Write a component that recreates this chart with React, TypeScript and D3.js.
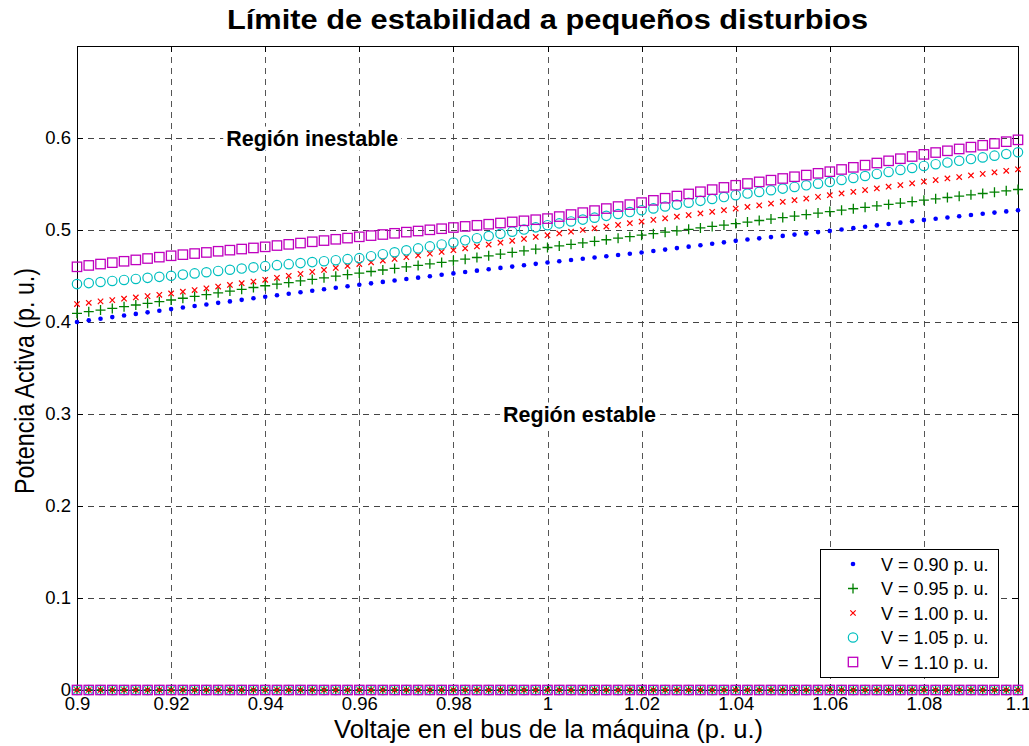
import * as d3 from 'd3';
import React, { useRef, useEffect } from 'react';

// bus voltage (x) and active power limit (y)
const voltages = [
  0.9, 0.9025, 0.905, 0.9075, 0.91, 0.9125, 0.915, 0.9175,
  0.92, 0.9225, 0.925, 0.9275, 0.93, 0.9325, 0.935, 0.9375,
  0.94, 0.9425, 0.945, 0.9475, 0.95, 0.9525, 0.955, 0.9575,
  0.96, 0.9625, 0.965, 0.9675, 0.97, 0.9725, 0.975, 0.9775,
  0.98, 0.9825, 0.985, 0.9875, 0.99, 0.9925, 0.995, 0.9975,
  1.0, 1.0025, 1.005, 1.0075, 1.01, 1.0125, 1.015, 1.0175,
  1.02, 1.0225, 1.025, 1.0275, 1.03, 1.0325, 1.035, 1.0375,
  1.04, 1.0425, 1.045, 1.0475, 1.05, 1.0525, 1.055, 1.0575,
  1.06, 1.0625, 1.065, 1.0675, 1.07, 1.0725, 1.075, 1.0775,
  1.08, 1.0825, 1.085, 1.0875, 1.09, 1.0925, 1.095, 1.0975,
  1.1,
];

const pV090 = [
  0.4000, 0.4018, 0.4035, 0.4053, 0.4070, 0.4088, 0.4105, 0.4123,
  0.4140, 0.4157, 0.4174, 0.4191, 0.4208, 0.4224, 0.4241, 0.4258,
  0.4275, 0.4291, 0.4307, 0.4324, 0.4340, 0.4356, 0.4372, 0.4389,
  0.4405, 0.4420, 0.4436, 0.4451, 0.4467, 0.4482, 0.4497, 0.4513,
  0.4528, 0.4543, 0.4558, 0.4573, 0.4588, 0.4602, 0.4617, 0.4632,
  0.4647, 0.4661, 0.4674, 0.4688, 0.4701, 0.4715, 0.4728, 0.4742,
  0.4755, 0.4771, 0.4787, 0.4803, 0.4819, 0.4834, 0.4850, 0.4866,
  0.4882, 0.4896, 0.4909, 0.4923, 0.4936, 0.4950, 0.4963, 0.4977,
  0.4990, 0.5005, 0.5020, 0.5035, 0.5050, 0.5065, 0.5080, 0.5095,
  0.5110, 0.5123, 0.5136, 0.5149, 0.5163, 0.5176, 0.5189, 0.5202,
  0.5215,
];

const pV095 = [
  0.4094, 0.4112, 0.4130, 0.4148, 0.4167, 0.4185, 0.4203, 0.4221,
  0.4239, 0.4258, 0.4278, 0.4297, 0.4317, 0.4336, 0.4355, 0.4375,
  0.4394, 0.4411, 0.4429, 0.4446, 0.4463, 0.4480, 0.4498, 0.4515,
  0.4532, 0.4549, 0.4565, 0.4582, 0.4599, 0.4615, 0.4632, 0.4648,
  0.4665, 0.4683, 0.4701, 0.4719, 0.4738, 0.4756, 0.4774, 0.4792,
  0.4810, 0.4827, 0.4844, 0.4860, 0.4877, 0.4894, 0.4911, 0.4927,
  0.4944, 0.4960, 0.4976, 0.4991, 0.5007, 0.5023, 0.5039, 0.5054,
  0.5070, 0.5086, 0.5103, 0.5119, 0.5135, 0.5151, 0.5168, 0.5184,
  0.5200, 0.5216, 0.5231, 0.5247, 0.5262, 0.5278, 0.5293, 0.5309,
  0.5324, 0.5339, 0.5353, 0.5368, 0.5382, 0.5397, 0.5411, 0.5426,
  0.5440,
];

const pV100 = [
  0.4195, 0.4209, 0.4224, 0.4238, 0.4253, 0.4267, 0.4281, 0.4296,
  0.4310, 0.4329, 0.4347, 0.4366, 0.4385, 0.4403, 0.4422, 0.4440,
  0.4459, 0.4480, 0.4502, 0.4523, 0.4545, 0.4566, 0.4587, 0.4609,
  0.4630, 0.4649, 0.4668, 0.4686, 0.4705, 0.4724, 0.4743, 0.4761,
  0.4780, 0.4801, 0.4821, 0.4842, 0.4862, 0.4883, 0.4903, 0.4924,
  0.4944, 0.4963, 0.4981, 0.5000, 0.5018, 0.5037, 0.5055, 0.5074,
  0.5092, 0.5110, 0.5127, 0.5145, 0.5163, 0.5180, 0.5198, 0.5215,
  0.5233, 0.5251, 0.5269, 0.5287, 0.5306, 0.5324, 0.5342, 0.5360,
  0.5378, 0.5397, 0.5415, 0.5434, 0.5452, 0.5471, 0.5489, 0.5508,
  0.5526, 0.5543, 0.5560, 0.5576, 0.5593, 0.5610, 0.5627, 0.5643,
  0.5660,
];

const pV105 = [
  0.4412, 0.4423, 0.4435, 0.4446, 0.4457, 0.4468, 0.4480, 0.4491,
  0.4502, 0.4515, 0.4528, 0.4541, 0.4555, 0.4568, 0.4581, 0.4594,
  0.4607, 0.4618, 0.4629, 0.4640, 0.4651, 0.4661, 0.4672, 0.4683,
  0.4694, 0.4715, 0.4737, 0.4758, 0.4779, 0.4800, 0.4822, 0.4843,
  0.4864, 0.4888, 0.4911, 0.4935, 0.4958, 0.4982, 0.5005, 0.5029,
  0.5052, 0.5072, 0.5093, 0.5113, 0.5134, 0.5154, 0.5174, 0.5195,
  0.5215, 0.5235, 0.5256, 0.5276, 0.5297, 0.5317, 0.5337, 0.5358,
  0.5378, 0.5396, 0.5414, 0.5432, 0.5450, 0.5468, 0.5486, 0.5504,
  0.5522, 0.5544, 0.5566, 0.5587, 0.5609, 0.5631, 0.5653, 0.5674,
  0.5696, 0.5715, 0.5733, 0.5752, 0.5771, 0.5789, 0.5808, 0.5826,
  0.5845,
];

const pV110 = [
  0.4600, 0.4615, 0.4630, 0.4645, 0.4660, 0.4675, 0.4690, 0.4705,
  0.4720, 0.4732, 0.4744, 0.4756, 0.4769, 0.4781, 0.4793, 0.4805,
  0.4817, 0.4831, 0.4844, 0.4858, 0.4872, 0.4885, 0.4899, 0.4912,
  0.4926, 0.4939, 0.4951, 0.4964, 0.4977, 0.4989, 0.5002, 0.5014,
  0.5027, 0.5039, 0.5051, 0.5063, 0.5076, 0.5088, 0.5100, 0.5112,
  0.5124, 0.5146, 0.5168, 0.5189, 0.5211, 0.5233, 0.5255, 0.5276,
  0.5298, 0.5322, 0.5345, 0.5369, 0.5392, 0.5416, 0.5439, 0.5463,
  0.5486, 0.5505, 0.5523, 0.5542, 0.5560, 0.5579, 0.5597, 0.5616,
  0.5634, 0.5658, 0.5681, 0.5705, 0.5728, 0.5752, 0.5775, 0.5799,
  0.5822, 0.5842, 0.5861, 0.5881, 0.5901, 0.5921, 0.5940, 0.5960,
  0.5980,
];

// every series is also plotted along P = 0
const floorPower = 0;

const xTicks = [0.9, 0.92, 0.94, 0.96, 0.98, 1.0, 1.02, 1.04, 1.06, 1.08, 1.1];
const xTickLabels = ['0.9', '0.92', '0.94', '0.96', '0.98', '1', '1.02', '1.04', '1.06', '1.08', '1.1'];
const yTicks = [0, 0.1, 0.2, 0.3, 0.4, 0.5, 0.6];
const yTickLabels = ['0', '0.1', '0.2', '0.3', '0.4', '0.5', '0.6'];

const regionNotes = [
  { text: 'Región inestable', v: 0.95, p: 0.6 },
  { text: 'Región estable', v: 1.0068, p: 0.3 },
];

const seriesList = [
  { label: 'V = 0.90 p. u.', values: pV090, color: '#0000ff', marker: 'dot' },
  { label: 'V = 0.95 p. u.', values: pV095, color: '#008000', marker: 'plus' },
  { label: 'V = 1.00 p. u.', values: pV100, color: '#ff0000', marker: 'cross' },
  { label: 'V = 1.05 p. u.', values: pV105, color: '#00bfbf', marker: 'circle' },
  { label: 'V = 1.10 p. u.', values: pV110, color: '#bf00bf', marker: 'square' },
];

const font = 'Arial, "Liberation Sans", Helvetica, sans-serif';

function drawMarker(g, marker, color) {
  if (marker === 'dot') {
    g.append('circle').attr('r', 2.3).attr('fill', color);
  } else if (marker === 'plus') {
    g.append('path').attr('d', 'M-5,0H5M0,-5V5').attr('stroke', color).attr('stroke-width', 1.3).attr('fill', 'none');
  } else if (marker === 'cross') {
    g.append('path').attr('d', 'M-2.7,-2.7L2.7,2.7M-2.7,2.7L2.7,-2.7').attr('stroke', color).attr('stroke-width', 1.2).attr('fill', 'none');
  } else if (marker === 'circle') {
    g.append('circle').attr('r', 4.7).attr('stroke', color).attr('stroke-width', 1.2).attr('fill', 'none');
  } else {
    g.append('rect').attr('x', -4.7).attr('y', -4.7).attr('width', 9.4).attr('height', 9.4)
      .attr('stroke', color).attr('stroke-width', 1.3).attr('fill', 'none');
  }
}

export default function App() {
  const svgRef = useRef(null);
  const width = 1029;
  const height = 746;
  const marginTop = 46;
  const marginRight = 11;
  const marginBottom = 56;
  const marginLeft = 77;

  useEffect(() => {
    if (!svgRef.current) return;
    const svg = d3.select(svgRef.current);
    svg.selectAll('*').remove();

    const x = d3.scaleLinear().domain([0.9, 1.1]).range([marginLeft, width - marginRight]);
    const y = d3.scaleLinear().domain([0, 0.7]).range([height - marginBottom, marginTop]);
    const plotH = height - marginBottom - marginTop;
    const plotW = width - marginRight - marginLeft;

    svg.append('rect').attr('width', width).attr('height', height).attr('fill', '#fff');

    // grid
    svg.append('g')
      .attr('transform', `translate(0,${height - marginBottom})`)
      .call(d3.axisBottom(x).tickValues(xTicks.slice(1, -1)).tickSize(-plotH).tickFormat(() => ''))
      .call(g => g.select('.domain').remove())
      .call(g => g.selectAll('line').attr('stroke', '#555').attr('stroke-dasharray', '6,5').attr('shape-rendering', 'crispEdges'));
    svg.append('g')
      .attr('transform', `translate(${marginLeft},0)`)
      .call(d3.axisLeft(y).tickValues(yTicks.slice(1)).tickSize(-plotW).tickFormat(() => ''))
      .call(g => g.select('.domain').remove())
      .call(g => g.selectAll('line').attr('stroke', '#444').attr('stroke-dasharray', '6,5').attr('shape-rendering', 'crispEdges'));

    // axes with inward ticks, box on
    const styleAxis = g => {
      g.attr('font-family', font).attr('font-size', 18.5);
      g.selectAll('.domain').attr('stroke', '#000').attr('shape-rendering', 'crispEdges');
      g.selectAll('line').attr('stroke', '#000').attr('shape-rendering', 'crispEdges');
      g.selectAll('text').attr('fill', '#000');
    };
    svg.append('g')
      .attr('transform', `translate(0,${height - marginBottom})`)
      .call(d3.axisBottom(x).tickValues(xTicks).tickFormat((d, i) => xTickLabels[i])
        .tickSizeInner(-6).tickSizeOuter(0).tickPadding(7))
      .call(styleAxis);
    svg.append('g')
      .attr('transform', `translate(${marginLeft},0)`)
      .call(d3.axisLeft(y).tickValues(yTicks).tickFormat((d, i) => yTickLabels[i])
        .tickSizeInner(-6).tickSizeOuter(0).tickPadding(6))
      .call(styleAxis);
    svg.append('g')
      .attr('transform', `translate(0,${marginTop})`)
      .call(d3.axisTop(x).tickValues(xTicks).tickFormat(() => '').tickSizeInner(-6).tickSizeOuter(0))
      .call(styleAxis);
    svg.append('g')
      .attr('transform', `translate(${width - marginRight},0)`)
      .call(d3.axisRight(y).tickValues(yTicks).tickFormat(() => '').tickSizeInner(-6).tickSizeOuter(0))
      .call(styleAxis);

    // markers
    seriesList.forEach(s => {
      const layer = svg.append('g');
      const pts = voltages.map((v, i) => ({ v, p: s.values[i] }))
        .concat(voltages.map(v => ({ v, p: floorPower })));
      layer.selectAll('g')
        .data(pts)
        .enter()
        .append('g')
        .attr('transform', d => `translate(${x(d.v)},${y(d.p)})`)
        .each(function () { drawMarker(d3.select(this), s.marker, s.color); });
    });

    // region notes with white background
    regionNotes.forEach(n => {
      const g = svg.append('g');
      const bg = g.append('rect').attr('fill', '#fff');
      const t = g.append('text')
        .attr('x', x(n.v)).attr('y', y(n.p)).attr('dy', '0.35em')
        .attr('text-anchor', 'middle')
        .attr('font-family', font).attr('font-weight', 'bold').attr('font-size', 21.5)
        .text(n.text);
      const b = t.node().getBBox();
      bg.attr('x', b.x - 3).attr('y', b.y).attr('width', b.width + 6).attr('height', b.height);
    });

    // legend
    const lg = svg.append('g').attr('transform', 'translate(820,549)');
    lg.append('rect').attr('width', 178).attr('height', 128)
      .attr('fill', '#fff').attr('stroke', '#000').attr('shape-rendering', 'crispEdges');
    seriesList.forEach((s, i) => {
      const row = lg.append('g').attr('transform', `translate(0,${15 + i * 24.5})`);
      const m = row.append('g').attr('transform', 'translate(33,0)');
      drawMarker(m, s.marker, s.color);
      row.append('text').attr('x', 61).attr('y', 6.5)
        .attr('font-family', font).attr('font-size', 18).text(s.label);
    });

    // title and axis labels
    svg.append('text')
      .attr('x', (marginLeft + width - marginRight) / 2).attr('y', 29)
      .attr('text-anchor', 'middle')
      .attr('font-family', font).attr('font-weight', 'bold').attr('font-size', 28)
      .attr('textLength', 641).attr('lengthAdjust', 'spacingAndGlyphs')
      .text('Límite de estabilidad a pequeños disturbios');
    svg.append('text')
      .attr('x', 548.5).attr('y', 738)
      .attr('text-anchor', 'middle')
      .attr('font-family', font).attr('font-size', 25)
      .attr('textLength', 429).attr('lengthAdjust', 'spacingAndGlyphs')
      .text('Voltaje en el bus de la máquina (p. u.)');
    svg.append('text')
      .attr('transform', 'translate(33.5,381) rotate(-90)')
      .attr('text-anchor', 'middle')
      .attr('font-family', font).attr('font-size', 27)
      .attr('textLength', 226).attr('lengthAdjust', 'spacingAndGlyphs')
      .text('Potencia Activa (p. u.)');
  }, []);

  return (
    <svg ref={svgRef} width={width} height={height}
      style={{ position: 'absolute', left: 0, top: 0, display: 'block' }} />
  );
}
